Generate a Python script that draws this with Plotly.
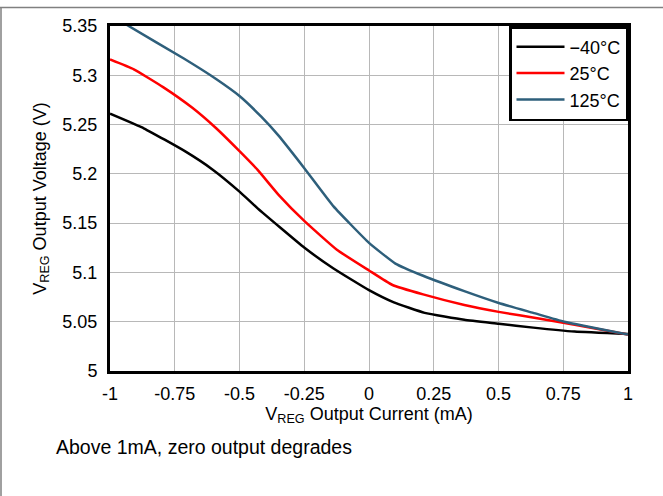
import plotly.graph_objects as go

current_m40 = [-1, -0.868, -0.711, -0.602, -0.5, -0.43, -0.249, -0.137, 0, 0.096, 0.215, 0.368, 0.501, 0.634, 0.794, 1]
vreg_m40 = [5.261, 5.246, 5.223, 5.204, 5.182, 5.165, 5.125, 5.104, 5.082, 5.0696, 5.059, 5.052, 5.048, 5.044, 5.040, 5.0375]

current_25 = [-1, -0.908, -0.795, -0.682, -0.589, -0.5, -0.43, -0.35, -0.249, -0.124, 0, 0.089, 0.209, 0.368, 0.501, 0.661, 0.794, 1]
vreg_25 = [5.316, 5.306, 5.288, 5.267, 5.246, 5.223, 5.204, 5.179, 5.152, 5.123, 5.102, 5.0875, 5.0777, 5.067, 5.060, 5.053, 5.047, 5.037]

current_125 = [-1, -0.928, -0.715, -0.589, -0.5, -0.416, -0.35, -0.249, -0.137, 0, 0.102, 0.209, 0.368, 0.501, 0.634, 0.754, 1]
vreg_125 = [5.362, 5.350, 5.317, 5.296, 5.279, 5.258, 5.239, 5.2055, 5.167, 5.130, 5.109, 5.0966, 5.081, 5.069, 5.059, 5.050, 5.037]

x_tickvals = [-1, -0.75, -0.5, -0.25, 0, 0.25, 0.5, 0.75, 1]
x_ticktext = ["-1", "-0.75", "-0.5", "-0.25", "0", "0.25", "0.5", "0.75", "1"]
y_tickvals = [5, 5.05, 5.1, 5.15, 5.2, 5.25, 5.3, 5.35]
y_ticktext = ["5", "5.05", "5.1", "5.15", "5.2", "5.25", "5.3", "5.35"]

series = [
    ("\u221240\u00b0C", current_m40, vreg_m40, "#000000"),
    ("25\u00b0C", current_25, vreg_25, "#ff0000"),
    ("125\u00b0C", current_125, vreg_125, "#2e5f7b"),
]

FONT = "Arial, Liberation Sans, sans-serif"

fig = go.Figure()
for name, xs, ys, col in series:
    fig.add_trace(go.Scatter(x=xs, y=ys, mode="lines", name=name,
                             line=dict(color=col, width=2.5, shape="spline", smoothing=0.4)))

axis_common = dict(showgrid=True, gridcolor="#b8b8b8", gridwidth=1,
                   showline=True, linecolor="#000000", linewidth=3, mirror=True,
                   ticks="", zeroline=False,
                   tickfont=dict(family=FONT, size=18, color="#000000"))

fig.update_xaxes(range=[-1, 1], tickmode="array", tickvals=x_tickvals, ticktext=x_ticktext,
                 ticklabelstandoff=4,
                 title=dict(text="V<sub>REG</sub> Output Current (mA)", standoff=4,
                            font=dict(family=FONT, size=18, color="#000000")),
                 **axis_common)
fig.update_yaxes(range=[5, 5.35], tickmode="array", tickvals=y_tickvals, ticktext=y_ticktext,
                 ticklabelstandoff=6,
                 title=dict(text="V<sub>REG</sub> Output Voltage (V)", standoff=12,
                            font=dict(family=FONT, size=18, color="#000000")),
                 **axis_common)

fig.update_layout(
    width=663, height=496,
    margin=dict(l=110, r=35, t=26, b=125),
    paper_bgcolor="#ffffff", plot_bgcolor="#ffffff",
    font=dict(family=FONT, size=18, color="#000000"),
    showlegend=True,
    legend=dict(x=1, y=1, xanchor="right", yanchor="top",
                bgcolor="#ffffff", bordercolor="#000000", borderwidth=2.5,
                font=dict(family=FONT, size=18, color="#000000"),
                tracegroupgap=0, itemwidth=48),
    annotations=[dict(text="Above 1mA, zero output degrades", xref="paper", yref="paper",
                      x=(54 - 110) / 518, y=(371 - 447) / 345, xanchor="left", yanchor="middle",
                      showarrow=False, font=dict(family=FONT, size=19.5, color="#000000"))],
    shapes=[
        dict(type="line", xref="paper", yref="paper", x0=(0 - 110) / 518, x1=(663 - 110) / 518,
             y0=(371 - 7.5) / 345, y1=(371 - 7.5) / 345, line=dict(color="#808080", width=1.5)),
        dict(type="line", xref="paper", yref="paper", x0=(1 - 110) / 518, x1=(1 - 110) / 518,
             y0=(371 - 7.5) / 345, y1=(371 - 496) / 345, line=dict(color="#808080", width=1.5)),
    ],
)

fig.write_html("out.html")
